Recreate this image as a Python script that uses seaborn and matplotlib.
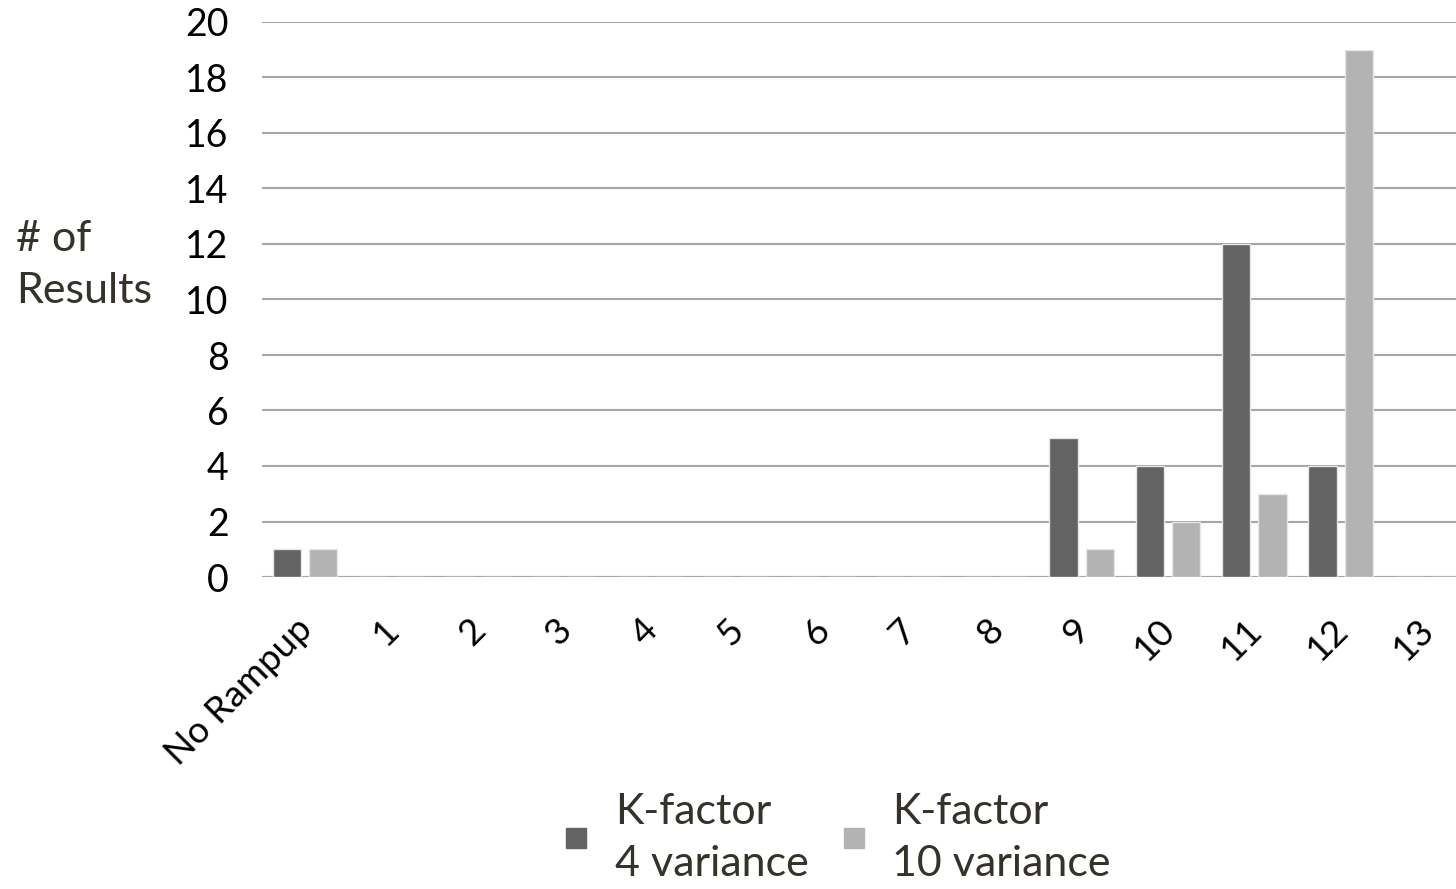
import matplotlib
matplotlib.use("Agg")
import matplotlib.pyplot as plt
import matplotlib.transforms as mtransforms
from matplotlib.lines import Line2D
import seaborn as sns
import pandas as pd

# Ramp-up categories and result counts per K-factor variance
categories = ["No Rampup", "1", "2", "3", "4", "5", "6", "7", "8", "9", "10", "11", "12", "13"]
kfactor_4 = [1, 0, 0, 0, 0, 0, 0, 0, 0, 5, 4, 12, 4, 0]
kfactor_10 = [1, 0, 0, 0, 0, 0, 0, 0, 0, 1, 2, 3, 19, 0]
series_names = ["K-factor\n4 variance", "K-factor\n10 variance"]
series_colors = ["#636363", "#b3b3b3"]
y_ticks = [0, 2, 4, 6, 8, 10, 12, 14, 16, 18, 20]

df = pd.DataFrame({
    "ramp": categories * 2,
    "count": kfactor_4 + kfactor_10,
    "series": [series_names[0]] * len(categories) + [series_names[1]] * len(categories),
})

sns.set_theme(style="white")
plt.rcParams["font.family"] = ["Lato", "DejaVu Sans"]

fig = plt.figure(figsize=(14.56, 8.89), dpi=100)
ax = fig.add_axes([262 / 1456, 1 - 577 / 889, 1208 / 1456, (577 - 22) / 889])

sns.barplot(
    data=df, x="ramp", y="count", hue="series", order=categories,
    hue_order=series_names, palette=series_colors, width=0.84, gap=0.22,
    edgecolor="#e6e6e6", linewidth=1.0, saturation=1, ax=ax, legend=False,
)

ax.set_ylim(0, 20)
ax.set_xlim(-0.5, len(categories) - 0.5)
ax.set_yticks(y_ticks)
ax.yaxis.grid(True, color="#a6a6a6", linewidth=1.5)
ax.set_axisbelow(True)
for side in ["top", "right", "left", "bottom"]:
    ax.spines[side].set_visible(False)
ax.axhline(0, color="#a6a6a6", linewidth=1.5, zorder=0.5)

ax.set_xlabel("")
ax.set_ylabel("")
ax.tick_params(axis="y", length=0, pad=24, labelsize=27, labelcolor="black")
ax.tick_params(axis="x", length=0, pad=34, labelsize=26.5, labelcolor="black")
offset = mtransforms.ScaledTranslation(2 / 100, 0, fig.dpi_scale_trans)
for lbl in ax.get_xticklabels():
    lbl.set_rotation(45)
    lbl.set_ha("right")
    lbl.set_va("center")
    lbl.set_rotation_mode("anchor")
    lbl.set_transform(lbl.get_transform() + offset)

fig.text(16 / 1456, 1 - 265 / 889, "# of\nResults", ha="left", va="center",
         fontsize=31, color="#35322a", linespacing=1.45)

handles = [Line2D([], [], linestyle="none", marker="s", markersize=15,
                  markerfacecolor=c, markeredgecolor=c) for c in series_colors]
leg = fig.legend(handles, series_names, loc="center", bbox_to_anchor=(838 / 1456, 1 - 838 / 889),
                 ncol=2, frameon=False, fontsize=31, labelcolor="#35322a",
                 handlelength=0.5, handletextpad=0.65, columnspacing=0.8)
for t in leg.get_texts():
    t.set_linespacing(1.45)

fig.savefig("out.png", dpi=100)
